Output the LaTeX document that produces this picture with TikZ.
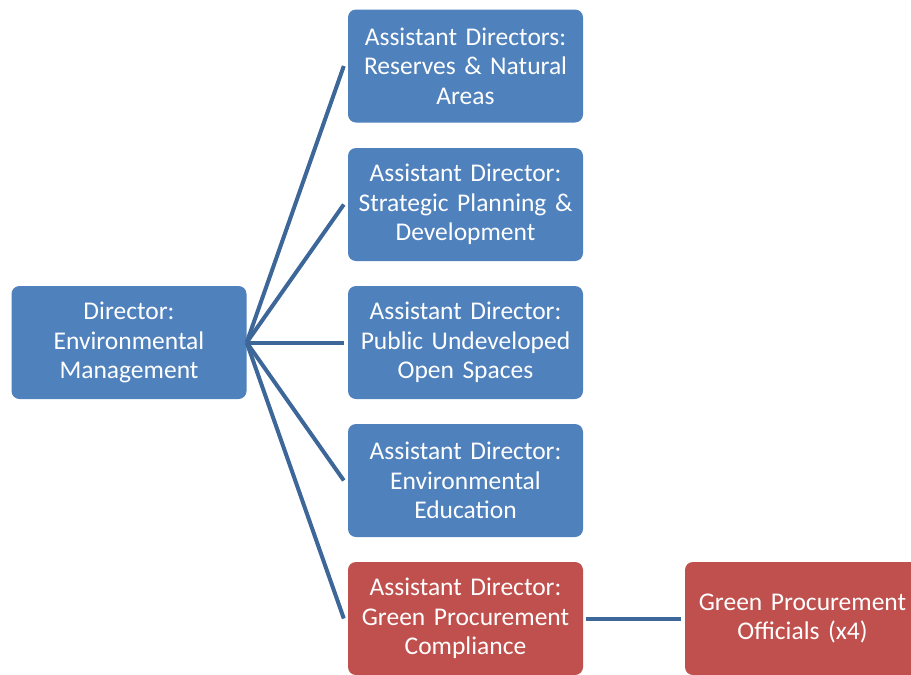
\documentclass[tikz,border=0pt]{standalone}
\usepackage{fontspec}
\setmainfont{Carlito}
\begin{document}
\begin{tikzpicture}[x=1pt,y=-1pt,
  box/.style={rounded corners=8pt, minimum width=235pt, minimum height=113pt, text width=232pt, align=center, text=white, font=\fontsize{25.5}{29.5}\selectfont, inner sep=0pt},
  bluebox/.style={box, fill=blue1},
  redbox/.style={box, fill=red1},
  conn/.style={draw=line1, line width=4pt}]
\definecolor{blue1}{HTML}{4F81BD}
\definecolor{red1}{HTML}{C0504D}
\definecolor{line1}{HTML}{3D6699}
\useasboundingbox (0,0) rectangle (911,675);
\clip (0,0) rectangle (911,675);
\fill[white] (0,0) rectangle (911,675);
\node[bluebox] (dir) at (129,342.5) {Director:\\ Environmental\\ Management};
\node[bluebox] (a1) at (465.5,66) {Assistant Directors:\\ Reserves \& Natural\\ Areas};
\node[bluebox] (a2) at (465.5,204.5) {Assistant Director:\\ Strategic Planning \&\\ Development};
\node[bluebox] (a3) at (465.5,342.5) {Assistant Director:\\ Public Undeveloped\\ Open Spaces};
\node[bluebox] (a4) at (465.5,480.5) {Assistant Director:\\ Environmental\\ Education};
\node[redbox] (a5) at (465.5,618.5) {Assistant Director:\\ Green Procurement\\ Compliance};
\node[redbox] (g) at (802.5,618.5) {Green Procurement\\ Officials (x4)};
\foreach \n in {a1,a2,a3,a4,a5} {
  \draw[conn] (dir.east) -- ([xshift=-4pt]\n.west);
}
\draw[conn] ([xshift=3pt]a5.east) -- ([xshift=-4pt]g.west);
\end{tikzpicture}
\end{document}
